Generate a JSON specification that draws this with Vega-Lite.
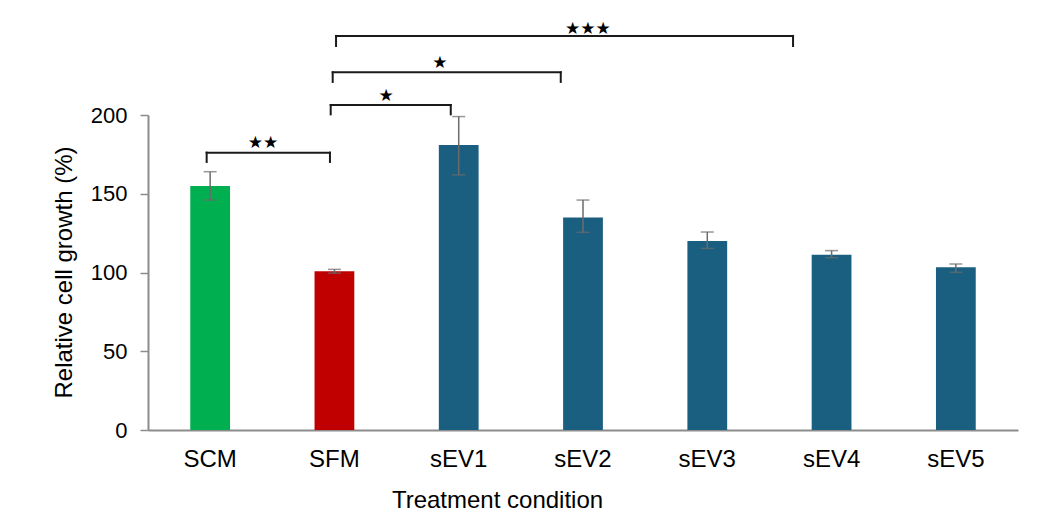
{
  "$schema": "https://vega.github.io/schema/vega-lite/v6.json",
  "width": 870,
  "height": 315,
  "autosize": {"type": "none"},
  "padding": {"left": 148, "top": 115, "right": 26, "bottom": 88},
  "background": "white",
  "config": {"view": {"stroke": null}, "font": "Liberation Sans"},
  "datasets": {
    "bars": [
      {"cond": "SCM", "mean": 155, "lo": 146, "hi": 164},
      {"cond": "SFM", "mean": 100.8, "lo": 99.6, "hi": 102},
      {"cond": "sEV1", "mean": 181, "lo": 162, "hi": 199},
      {"cond": "sEV2", "mean": 135, "lo": 125.5, "hi": 146},
      {"cond": "sEV3", "mean": 120, "lo": 115.3, "hi": 125.7},
      {"cond": "sEV4", "mean": 111.3, "lo": 109.4, "hi": 113.9},
      {"cond": "sEV5", "mean": 103.3, "lo": 100.1, "hi": 105.4}
    ],
    "brackets": [
      {"x1": 0.472, "x2": 1.464, "y": 176.1, "ylo": 170.2, "label": "★★", "lx": 0.925, "ly": 182.4},
      {"x1": 1.47, "x2": 2.436, "y": 206.3, "ylo": 200.4, "label": "★", "lx": 1.915, "ly": 212},
      {"x1": 1.486, "x2": 3.321, "y": 227.1, "ylo": 221, "label": "★", "lx": 2.349, "ly": 232.8},
      {"x1": 1.513, "x2": 5.19, "y": 250.2, "ylo": 243.8, "label": "★★★", "lx": 3.54, "ly": 254.4}
    ]
  },
  "layer": [
    {
      "data": {"name": "bars"},
      "encoding": {
        "x": {
          "field": "cond",
          "type": "nominal",
          "sort": null,
          "scale": {"paddingInner": 0.68, "paddingOuter": 0.34},
          "axis": {
            "title": "Treatment condition",
            "labelAngle": 0,
            "domainColor": "#8c8c8c",
            "domainWidth": 2,
            "ticks": false,
            "tickSize": 0,
            "labelFontSize": 24,
            "labelColor": "#000",
            "labelPadding": 17,
            "titleFontSize": 24,
            "titleFontWeight": "normal",
            "titleColor": "#000",
            "titleX": 349,
            "titleY": 77,
            "titleBaseline": "alphabetic"
          }
        }
      },
      "layer": [
        {
          "mark": {"type": "bar"},
          "encoding": {
            "y": {
              "field": "mean",
              "type": "quantitative",
              "scale": {"domain": [0, 200], "nice": false},
              "axis": {
                "title": "Relative cell growth (%)",
                "values": [0, 50, 100, 150, 200],
                "grid": false,
                "domainColor": "#8c8c8c",
                "domainWidth": 2,
                "tickColor": "#8c8c8c",
                "tickWidth": 1.5,
                "tickSize": 8,
                "labelFontSize": 22,
                "labelPadding": 13,
                "labelColor": "#000",
                "titleFontSize": 24,
                "titleFontWeight": "normal",
                "titleColor": "#000",
                "titleX": -84,
                "titleY": 157,
                "titleAngle": -90,
                "titleBaseline": "middle"
              }
            },
            "color": {
              "field": "cond",
              "type": "nominal",
              "scale": {
                "domain": ["SCM", "SFM", "sEV1", "sEV2", "sEV3", "sEV4", "sEV5"],
                "range": ["#00b050", "#c00000", "#1a5f80", "#1a5f80", "#1a5f80", "#1a5f80", "#1a5f80"]
              },
              "legend": null
            }
          }
        },
        {
          "mark": {"type": "rule", "color": "#6b6b6b", "strokeWidth": 1.5},
          "encoding": {
            "y": {"field": "lo", "type": "quantitative", "scale": {"domain": [0, 200], "nice": false}},
            "y2": {"field": "hi"}
          }
        },
        {
          "mark": {"type": "tick", "color": "#6b6b6b", "size": 13, "thickness": 1.5},
          "encoding": {
            "y": {"field": "lo", "type": "quantitative", "scale": {"domain": [0, 200], "nice": false}}
          }
        },
        {
          "mark": {"type": "tick", "color": "#6b6b6b", "size": 13, "thickness": 1.5},
          "encoding": {
            "y": {"field": "hi", "type": "quantitative", "scale": {"domain": [0, 200], "nice": false}}
          }
        }
      ]
    },
    {
      "data": {"name": "brackets"},
      "layer": [
        {
          "mark": {"type": "rule", "color": "#1a1a1a", "strokeWidth": 2, "strokeCap": "square"},
          "encoding": {
            "x": {"field": "x1", "type": "quantitative", "scale": {"domain": [0, 7], "nice": false, "zero": false}, "axis": null},
            "x2": {"field": "x2"},
            "y": {"field": "y", "type": "quantitative", "scale": {"domain": [0, 200], "nice": false}}
          }
        },
        {
          "mark": {"type": "rule", "color": "#1a1a1a", "strokeWidth": 2, "strokeCap": "square"},
          "encoding": {
            "x": {"field": "x1", "type": "quantitative", "scale": {"domain": [0, 7], "nice": false, "zero": false}, "axis": null},
            "y": {"field": "y", "type": "quantitative", "scale": {"domain": [0, 200], "nice": false}},
            "y2": {"field": "ylo"}
          }
        },
        {
          "mark": {"type": "rule", "color": "#1a1a1a", "strokeWidth": 2, "strokeCap": "square"},
          "encoding": {
            "x": {"field": "x2", "type": "quantitative", "scale": {"domain": [0, 7], "nice": false, "zero": false}, "axis": null},
            "y": {"field": "y", "type": "quantitative", "scale": {"domain": [0, 200], "nice": false}},
            "y2": {"field": "ylo"}
          }
        },
        {
          "mark": {"type": "text", "font": "DejaVu Sans", "fontSize": 17, "color": "#000", "baseline": "middle", "align": "center"},
          "encoding": {
            "x": {"field": "lx", "type": "quantitative", "scale": {"domain": [0, 7], "nice": false, "zero": false}, "axis": null},
            "y": {"field": "ly", "type": "quantitative", "scale": {"domain": [0, 200], "nice": false}},
            "text": {"field": "label"}
          }
        }
      ]
    }
  ],
  "resolve": {"scale": {"x": "independent"}}
}
